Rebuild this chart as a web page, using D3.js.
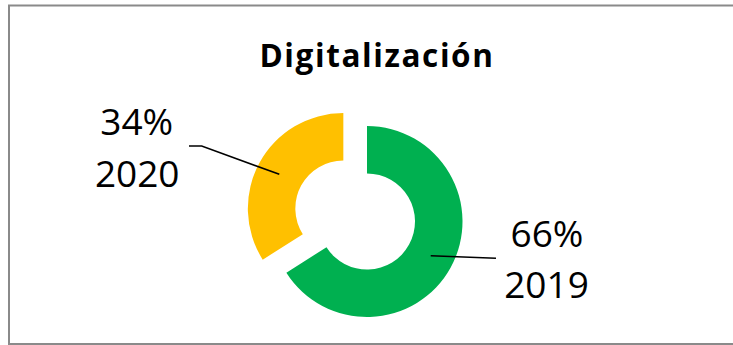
<!DOCTYPE html>
<html>
<head>
<meta charset="utf-8">
<script src="https://cdn.jsdelivr.net/npm/d3@7"></script>
<style>
  html, body { margin: 0; padding: 0; background: #fff; }
  svg { display: block; }
</style>
</head>
<body>
<svg id="chart" width="733" height="345"></svg>
<script>
// Share of digitalization by year
const categories = ["2019", "2020"];
const values = [66, 34];
const colors = ["#00B050", "#FFC000"];
const titleText = "Digitalización";

const svg = d3.select("#chart");
const W = 733, H = 345;

// Chart frame
svg.append("rect")
  .attr("x", 9).attr("y", 5.5)
  .attr("width", 740).attr("height", 338.5)
  .attr("fill", "#fff")
  .attr("stroke", "#8a8a8a")
  .attr("stroke-width", 2);

svg.append("text")
  .attr("x", 377).attr("y", 67)
  .attr("text-anchor", "middle")
  .attr("font-family", "'Open Sans', sans-serif")
  .attr("font-weight", 700)
  .attr("font-size", 31.5)
  .attr("letter-spacing", 1.6)
  .attr("fill", "#000")
  .text(titleText);

const cx = 367, cy = 221.5;
const outerR = 95.5, innerR = 48;
const explode = [0, 27];

const data = categories.map((c, i) => ({ category: c, value: values[i], color: colors[i], explode: explode[i] }));

const pie = d3.pie().value(d => d.value).sort(null);
const arc = d3.arc().innerRadius(innerR).outerRadius(outerR);
const arcs = pie(data);

const g = svg.append("g").attr("transform", `translate(${cx},${cy})`);

function offset(a) {
  const mid = (a.startAngle + a.endAngle) / 2;
  return [Math.sin(mid) * a.data.explode, -Math.cos(mid) * a.data.explode];
}

g.selectAll("path.slice")
  .data(arcs)
  .join("path")
  .attr("class", "slice")
  .attr("transform", d => { const [dx, dy] = offset(d); return `translate(${dx},${dy})`; })
  .attr("d", arc)
  .attr("fill", d => d.data.color);

// Leader lines and labels, positioned relative to each slice
const labelLayout = {
  "2019": { line: [[63.7, 34.2], [129, 36.8]], text: [180, 25.2], text2: [179.5, 76.8] },
  "2020": { line: [[-87.7, -47.2], [-165.3, -75.5], [-178, -75.5]], text: [-230.3, -86.5], text2: [-229.8, -34.8] }
};

const line = d3.line();
arcs.forEach(a => {
  const L = labelLayout[a.data.category];
  g.append("path")
    .attr("d", line(L.line))
    .attr("fill", "none")
    .attr("stroke", "#000")
    .attr("stroke-width", 1.6);
  const t = g.append("text")
    .attr("text-anchor", "middle")
    .attr("font-family", "'Open Sans', sans-serif")
    .attr("font-size", 37)
    .attr("fill", "#000");
  t.append("tspan").attr("x", L.text[0]).attr("y", L.text[1]).text(a.data.value + "%");
  t.append("tspan").attr("x", L.text2[0]).attr("y", L.text2[1]).text(a.data.category);
});
</script>
</body>
</html>
